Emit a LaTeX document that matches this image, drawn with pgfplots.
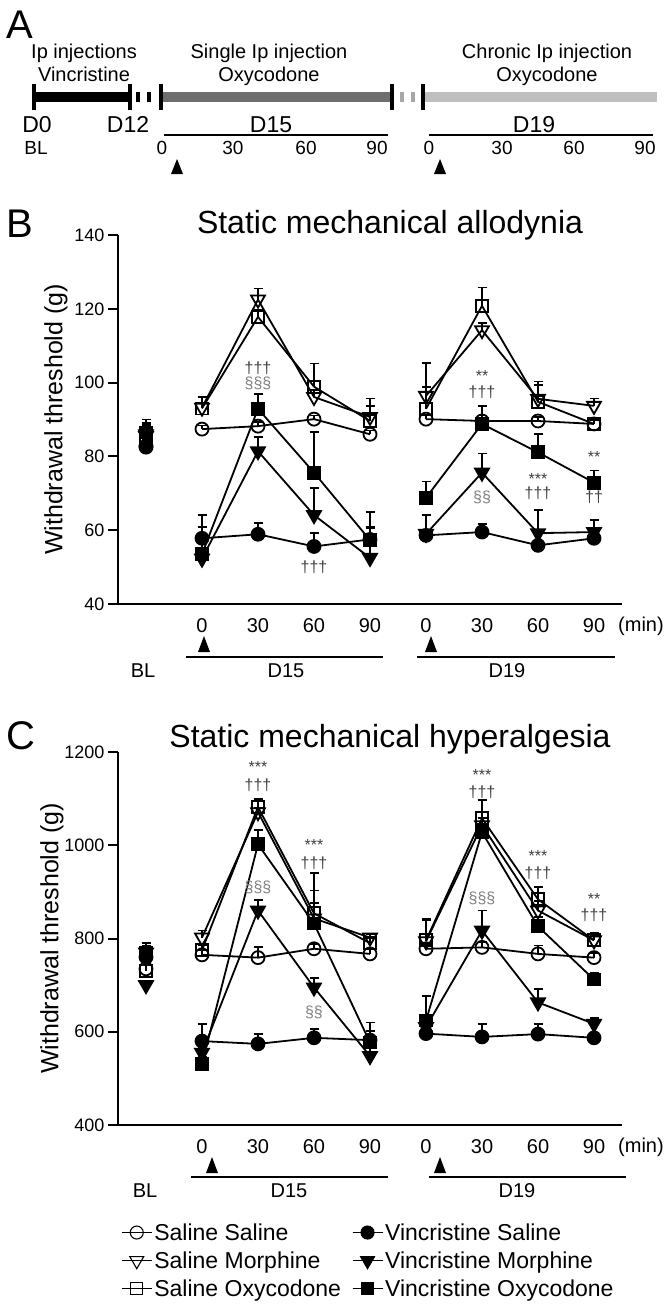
\documentclass[border=0pt]{standalone}
\usepackage{fontspec}
\setmainfont{Liberation Sans}
\usepackage{pgfplots}
\pgfplotsset{compat=1.18}
\newcommand{\fs}[1]{\fontsize{#1}{#1}\selectfont}
\pgfplotsset{
  panel/.style={
    scale only axis, width=504pt,
    xmin=-0.5, xmax=8.5,
    axis x line*=bottom, axis y line*=left,
    axis line style={line width=2pt},
    tick align=outside, major tick length=10pt,
    y tick style={line width=2pt, black},
    xtick={1,...,8}, xticklabels={0,30,60,90,0,30,60,90},
    x tick style={draw=none},
    xticklabel style={font=\fs{20}, yshift=-1pt},
    yticklabel style={font=\fs{18}},
    /pgf/number format/assume math mode=true,
    /pgf/number format/1000 sep={},
    ylabel style={font=\fs{25}},
    clip=false, unbounded coords=jump,
    every axis plot/.append style={black, line width=1.8pt,
      error bars/y dir=plus, error bars/y explicit,
      error bars/error bar style={line width=1.8pt},
      error bars/error mark options={rotate=90, line width=1.8pt, mark size=4.5pt}},
  },
  ss/.style={mark=o, mark size=6.5pt},
  sm/.style={mark=triangle, mark size=8pt, mark options={rotate=180}},
  so/.style={mark=square, mark size=6pt},
  vs/.style={mark=*, mark size=6.5pt},
  vm/.style={mark=triangle*, mark size=8pt, mark options={rotate=180}},
  vo/.style={mark=square*, mark size=6pt},
}
\begin{document}
\begin{tikzpicture}
\path[use as bounding box] (0,0) rectangle (664pt,-1309pt);
\begin{scope}[x=1pt,y=-1pt]
% ---------------- Panel A
\node[font=\fs{40}, anchor=base west] at (3,38) {A};
\node[font=\fs{20}, anchor=base] at (84,58) {Ip injections};
\node[font=\fs{20}, anchor=base] at (84,81) {Vincristine};
\node[font=\fs{20}, anchor=base] at (269,58) {Single Ip injection};
\node[font=\fs{20}, anchor=base] at (269,81) {Oxycodone};
\node[font=\fs{20}, anchor=base] at (547,58) {Chronic Ip injection};
\node[font=\fs{20}, anchor=base] at (547,81) {Oxycodone};
\fill[black] (34,92) rectangle (130,102);
\fill[black] (136,92) rectangle (140,102);
\fill[black] (147,92) rectangle (151,102);
\fill[black!57] (161,92) rectangle (392,102);
\fill[black!35] (400,92) rectangle (404,102);
\fill[black!35] (411,92) rectangle (415,102);
\fill[black!25] (423,92) rectangle (657,102);
\foreach \xx in {34,130,161,392,423} \draw[line width=4pt] (\xx,84) -- (\xx,110);
\node[font=\fs{23}, anchor=base] at (37,132) {D0};
\node[font=\fs{23}, anchor=base] at (128,132) {D12};
\node[font=\fs{23}, anchor=base] at (271,132) {D15};
\node[font=\fs{23}, anchor=base] at (534,132) {D19};
\draw[line width=1.5pt] (164,135) -- (388,135);
\draw[line width=1.5pt] (429,135) -- (653,135);
\node[font=\fs{19}, anchor=base] at (36,154) {BL};
\foreach \xx/\tt in {162/0,233/30,306/60,377/90,429/0,502/30,574/60,645/90}
  \node[font=\fs{19}, anchor=base] at (\xx,154) {\tt};
\fill (171,174) -- (177,159) -- (183,174) -- cycle;
\fill (434,174) -- (440,159) -- (446,174) -- cycle;
% ---------------- Panel B decorations
\node[font=\fs{40}, anchor=base west] at (3,237) {B};
\node[font=\fs{32}, anchor=base] at (390,233) {Static mechanical allodynia};
\node[font=\fs{20}] at (641,626) {(min)};
\fill (198,652) -- (204,636) -- (210,652) -- cycle;
\fill (425,652) -- (431,636) -- (437,652) -- cycle;
\draw[line width=1.5pt] (186,657) -- (383,657);
\draw[line width=1.5pt] (417,657) -- (615,657);
\node[font=\fs{20}] at (143,671) {BL};
\node[font=\fs{20}] at (286,671) {D15};
\node[font=\fs{20}] at (507,671) {D19};
% ---------------- Panel C decorations
\node[font=\fs{40}, anchor=base west] at (3,749) {C};
\node[font=\fs{32}, anchor=base] at (390,747) {Static mechanical hyperalgesia};
\node[font=\fs{20}] at (641,1147) {(min)};
\fill (206,1173) -- (212,1157) -- (218,1173) -- cycle;
\fill (434,1173) -- (440,1157) -- (446,1173) -- cycle;
\draw[line width=1.5pt] (191,1177) -- (388,1177);
\draw[line width=1.5pt] (429,1177) -- (626,1177);
\node[font=\fs{20}] at (145,1191) {BL};
\node[font=\fs{20}] at (289,1191) {D15};
\node[font=\fs{20}] at (517,1191) {D19};
\end{scope}

% ================= Panel B axis
\begin{axis}[panel, at={(118pt,-604pt)}, anchor=south west, height=369pt,
  ymin=40, ymax=140, ytick={40,60,...,140},
  ylabel={Withdrawal threshold (g)},
  ylabel style={at={(axis description cs:-0.123,0.5)}, anchor=center}]
\addplot[ss] coordinates {(0,82.5)+-(0,2) (0.5,nan)+-(0,0) (1,87.4)+-(0,1) (2,88.2)+-(0,1.2) (3,90.1)+-(0,1) (4,86.0)+-(0,1) (4.5,nan)+-(0,0) (5,90.1)+-(0,1) (6,89.6)+-(0,1.5) (7,89.6)+-(0,1) (8,88.8)+-(0,1)};
\addplot[vs] coordinates {(0,82.8)+-(0,2) (0.5,nan)+-(0,0) (1,57.8)+-(0,6.3) (2,58.9)+-(0,3) (3,55.6)+-(0,3.6) (4,57.5)+-(0,3) (4.5,nan)+-(0,0) (5,58.6)+-(0,5.5) (6,59.5)+-(0,2.1) (7,55.9)+-(0,1) (8,57.8)+-(0,1)};
\addplot[sm] coordinates {(0,86)+-(0,3) (0.5,nan)+-(0,0) (1,93.2)+-(0,3) (2,122.5)+-(0,3) (3,96.1)+-(0,2) (4,90.7)+-(0,5) (4.5,nan)+-(0,0) (5,96.4)+-(0,9) (6,114.2)+-(0,2) (7,95.6)+-(0,4.7) (8,93.7)+-(0,2)};
\addplot[vm] coordinates {(0,85.5)+-(0,3) (0.5,nan)+-(0,0) (1,52.3)+-(0,3) (2,81.4)+-(0,3.8) (3,64.1)+-(0,7.3) (4,52.5)+-(0,8.5) (4.5,nan)+-(0,0) (5,59)+-(0,1) (6,75.6)+-(0,5.2) (7,59.2)+-(0,6.3) (8,59.5)+-(0,3.2)};
\addplot[so] coordinates {(0,85)+-(0,3) (0.5,nan)+-(0,0) (1,93.0)+-(0,3) (2,117.8)+-(0,2) (3,98.9)+-(0,6.3) (4,89.6)+-(0,4) (4.5,nan)+-(0,0) (5,92.9)+-(0,6) (6,120.8)+-(0,5) (7,94.8)+-(0,4.5) (8,88.8)+-(0,1)};
\addplot[vo] coordinates {(0,86.5)+-(0,3.5) (0.5,nan)+-(0,0) (1,53.5)+-(0,7.3) (2,92.9)+-(0,4.1) (3,75.6)+-(0,11) (4,57.3)+-(0,7.7) (4.5,nan)+-(0,0) (5,68.8)+-(0,4.4) (6,88.8)+-(0,4.9) (7,81.1)+-(0,4.9) (8,72.9)+-(0,3.3)};
\begin{scope}[every node/.style={font=\fs{16}}]
\node[text=black!75] at (axis cs:2,103.8) {†††};
\node[text=black!50] at (axis cs:2,99.8) {§§§};
\node[text=black!75] at (axis cs:3,50) {†††};
\node[text=black!75] at (axis cs:6,101.8) {**};
\node[text=black!75] at (axis cs:6,97.5) {†††};
\node[text=black!50] at (axis cs:6,69) {§§};
\node[text=black!75] at (axis cs:7,73.8) {***};
\node[text=black!75] at (axis cs:7,70) {†††};
\node[text=black!75] at (axis cs:8,79.8) {**};
\node[text=black!75] at (axis cs:8,68.8) {††};
\end{scope}
\end{axis}

% ================= Panel C axis
\begin{axis}[panel, at={(118pt,-1125pt)}, anchor=south west, height=373pt,
  ymin=400, ymax=1200, ytick={400,600,...,1200},
  ylabel={Withdrawal threshold (g)},
  ylabel style={at={(axis description cs:-0.131,0.5)}, anchor=center},
  legend columns=2, legend cell align=left,
  legend style={draw=none, fill=none, font=\fs{23}, at={(axis description cs:0.006,-0.258)}, anchor=north west, inner sep=0pt, row sep=6pt,
    /tikz/every even column/.append style={column sep=9pt}},
  legend image code/.code={\draw[mark repeat=2,mark phase=2,#1,line width=1.1pt] plot coordinates {(0pt,0pt) (15pt,0pt) (30pt,0pt)};}]
\addplot[ss] coordinates {(0,735)+-(0,10) (0.5,nan)+-(0,0) (1,765)+-(0,10) (2,759)+-(0,22) (3,778)+-(0,11) (4,767)+-(0,10) (4.5,nan)+-(0,0) (5,778)+-(0,10) (6,781)+-(0,12) (7,767)+-(0,18) (8,759)+-(0,10)};
\addlegendentry{Saline Saline}
\addplot[vs] coordinates {(0,760)+-(0,15) (0.5,nan)+-(0,0) (1,580)+-(0,37) (2,574)+-(0,22) (3,587)+-(0,19) (4,582)+-(0,20) (4.5,nan)+-(0,0) (5,596)+-(0,10) (6,589)+-(0,28) (7,595)+-(0,22) (8,587)+-(0,8)};
\addlegendentry{Vincristine Saline}
\addplot[sm] coordinates {(0,770)+-(0,15) (0.5,nan)+-(0,0) (1,802)+-(0,15) (2,1071)+-(0,10) (3,843)+-(0,60) (4,802)+-(0,8) (4.5,nan)+-(0,0) (5,794)+-(0,45) (6,1043)+-(0,15) (7,860)+-(0,20) (8,796)+-(0,10)};
\addlegendentry{Saline Morphine}
\addplot[vm] coordinates {(0,700)+-(0,10) (0.5,nan)+-(0,0) (1,555)+-(0,10) (2,860)+-(0,22) (3,695)+-(0,20) (4,548)+-(0,40) (4.5,nan)+-(0,0) (5,610)+-(0,15) (6,817)+-(0,43) (7,663)+-(0,29) (8,617)+-(0,13)};
\addlegendentry{Vincristine Morphine}
\addplot[so] coordinates {(0,730)+-(0,15) (0.5,nan)+-(0,0) (1,775)+-(0,10) (2,1082)+-(0,17) (3,854)+-(0,86) (4,790)+-(0,10) (4.5,nan)+-(0,0) (5,796)+-(0,47) (6,1058)+-(0,39) (7,884)+-(0,26) (8,796)+-(0,17)};
\addlegendentry{Saline Oxycodone}
\addplot[vo] coordinates {(0,770)+-(0,20) (0.5,nan)+-(0,0) (1,531)+-(0,15) (2,1002)+-(0,30) (3,832)+-(0,45) (4,577)+-(0,43) (4.5,nan)+-(0,0) (5,624)+-(0,53) (6,1028)+-(0,30) (7,826)+-(0,20) (8,712)+-(0,15)};
\addlegendentry{Vincristine Oxycodone}
\begin{scope}[every node/.style={font=\fs{16}}]
\node[text=black!75] at (axis cs:2,1168) {***};
\node[text=black!75] at (axis cs:2,1129) {†††};
\node[text=black!50] at (axis cs:2,910) {§§§};
\node[text=black!75] at (axis cs:3,1000) {***};
\node[text=black!75] at (axis cs:3,961) {†††};
\node[text=black!50] at (axis cs:3,641) {§§};
\node[text=black!75] at (axis cs:6,1151) {***};
\node[text=black!75] at (axis cs:6,1114) {†††};
\node[text=black!50] at (axis cs:6,886) {§§§};
\node[text=black!75] at (axis cs:7,977) {***};
\node[text=black!75] at (axis cs:7,940) {†††};
\node[text=black!75] at (axis cs:8,884) {**};
\node[text=black!75] at (axis cs:8,849) {†††};
\end{scope}
\end{axis}
\end{tikzpicture}
\end{document}
